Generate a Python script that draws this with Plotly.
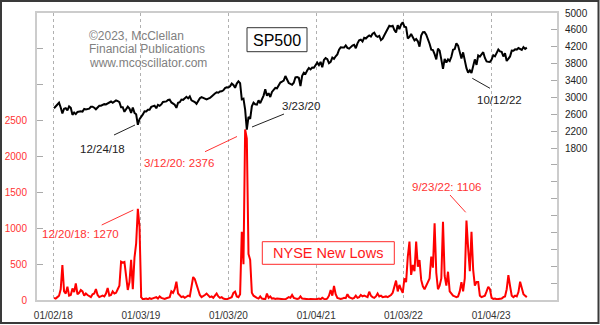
import pandas as pd
import plotly.graph_objects as go

# ---------------- data (weekly, Friday closes / weekly readings) ----------------
sp500_2018 = [2743, 2786, 2810, 2873,
              2762, 2620, 2732, 2747,
              2691, 2786, 2752, 2588, 2641,
              2604, 2656, 2670, 2670,
              2663, 2728, 2713, 2721,
              2735, 2779, 2780, 2755, 2718,
              2760, 2801, 2802, 2819,
              2840, 2833, 2850, 2875, 2902,
              2872, 2905, 2930, 2914,
              2886, 2767, 2768, 2659,
              2723, 2781, 2736, 2633, 2760,
              2633, 2600, 2351, 2486]
sp500_2019 = [2532, 2596, 2671, 2665,
              2707, 2708, 2776, 2793,
              2804, 2743, 2822, 2800, 2834,
              2893, 2907, 2905, 2940,
              2946, 2881, 2860, 2826, 2752,
              2873, 2887, 2950, 2942,
              2990, 3014, 2977, 3026,
              2932, 2919, 2889, 2847, 2926,
              2979, 3007, 2992, 2962,
              2952, 2970, 2986, 3023,
              3067, 3093, 3120, 3110, 3141,
              3146, 3169, 3221, 3240]
sp500_2020 = [3235, 3265, 3330, 3295, 3226,
              3328, 3380, 3338, 2954,
              2972, 2711, 2237, 2541,
              2489, 2790, 2875, 2837,
              2831, 2930, 2864, 2955, 3044,
              3194, 3041, 3098, 3009,
              3130, 3185, 3225, 3216, 3271,
              3351, 3373, 3397, 3508,
              3427, 3341, 3319, 3298,
              3348, 3477, 3484, 3465, 3270,
              3510, 3585, 3558, 3638,
              3699, 3663, 3709, 3703]
sp500_2021 = [3756, 3825, 3768, 3841, 3714,
              3887, 3934, 3907, 3811,
              3842, 3943, 3913, 3975,
              4020, 4129, 4185, 4180, 4181,
              4233, 4174, 4156, 4204,
              4230, 4247, 4166, 4281,
              4352, 4370, 4327, 4412, 4395,
              4437, 4468, 4442, 4509,
              4535, 4459, 4433, 4455,
              4357, 4391, 4471, 4545, 4605,
              4697, 4683, 4698, 4595,
              4538, 4712, 4620, 4726, 4778]
sp500_2022 = [4677, 4663, 4398, 4432,
              4501, 4419, 4349, 4385,
              4329, 4204, 4463, 4543,
              4546, 4488, 4393, 4272, 4132,
              4123, 4024, 3901, 4158,
              4109, 3901, 3675, 3912,
              3825, 3899, 3863, 3962, 4130,
              4145, 4280, 4228, 4058,
              3924, 4067, 3873, 3693, 3586,
              3640, 3577, 3753, 3901,
              3771, 3993, 3965, 4026,
              4072, 3934, 3852, 3845, 3840]
sp500_2023 = [3895, 3999, 3973, 4071,
              4136, 4090, 4079, 3970,
              4046, 3862, 3917, 3971, 4109,
              4105, 4138, 4133, 4169,
              4136, 4124, 4192, 4151, 4180]

lows_2018 = [30, 20, 40, 60,
             150, 488, 120, 90,
             185, 60, 70, 160, 110,
             230, 80, 100, 140,
             120, 60, 90, 70,
             60, 40, 80, 90, 153,
             70, 40, 50, 60,
             50, 90, 167, 60, 70,
             120, 90, 100, 150,
             200, 534, 520, 530,
             280, 140, 250, 560, 150,
             590, 790, 1270, 1020]
lows_2019 = [40, 10, 15, 20,
             10, 25, 15, 20,
             30, 40, 20, 50, 30,
             20, 15, 25, 30,
             40, 120, 100, 150, 255,
             90, 60, 40, 50,
             30, 45, 60, 50,
             200, 320, 290, 209, 120,
             70, 40, 50, 70,
             90, 60, 40, 50,
             30, 60, 90, 50, 30,
             40, 20, 15, 10]
lows_2020 = [20, 30, 40, 100, 116,
             50, 40, 80, 950,
             500, 2376, 2250, 640,
             560, 100, 60, 40,
             30, 20, 50, 20, 15,
             10, 90, 30, 50,
             20, 25, 15, 20, 15,
             10, 15, 10, 10,
             20, 40, 30, 70,
             30, 20, 15, 20, 50,
             20, 15, 10, 8,
             10, 15, 10, 10]
lows_2021 = [10, 15, 20, 10, 30,
             15, 10, 20, 60,
             140, 60, 195, 80,
             30, 20, 15, 20, 30,
             25, 80, 40, 25,
             20, 30, 60, 30,
             40, 70, 50, 60, 50,
             40, 116, 60, 40,
             30, 50, 90, 50,
             60, 40, 50, 50, 40,
             50, 70, 100, 210,
             270, 120, 210, 150, 100]
lows_2022 = [300, 250, 600, 813,
             350, 488, 400, 813,
             465, 557, 280, 190,
             150, 190, 250, 300, 604,
             450, 1068, 380, 150,
             200, 300, 1091, 335,
             200, 394, 120, 80, 60,
             50, 40, 50, 120,
             250, 120, 300, 1106, 720,
             400, 952, 420, 200,
             250, 250, 60, 40,
             50, 60, 120, 185, 150]
lows_2023 = [30, 15, 20, 10,
             10, 15, 20, 40,
             50, 150, 348, 195, 60,
             40, 60, 50, 110,
             255, 150, 80, 60, 40]

year_starts = ["2018-01-05", "2019-01-04", "2020-01-03",
               "2021-01-01", "2022-01-07", "2023-01-06"]
sp_years = [sp500_2018, sp500_2019, sp500_2020, sp500_2021, sp500_2022, sp500_2023]
lows_years = [lows_2018, lows_2019, lows_2020, lows_2021, lows_2022, lows_2023]

sp_dates, sp_vals, lo_dates, lo_vals = [], [], [], []
for start, spv, lov in zip(year_starts, sp_years, lows_years):
    sp_dates += list(pd.date_range(start, periods=len(spv), freq="W-FRI"))
    sp_vals += spv
    lo_dates += list(pd.date_range(start, periods=len(lov), freq="W-FRI"))
    lo_vals += lov

x_tick_dates = ["2018-01-02", "2019-01-03", "2020-01-03",
                "2021-01-04", "2022-01-03", "2023-01-04"]
x_tick_text = ["01/02/18", "01/03/19", "01/03/20", "01/04/21", "01/03/22", "01/04/23"]
lows_ticks = [0, 500, 1000, 1500, 2000, 2500, 3000, 3500]
lows_tick_text = ["0", "500", "1000", "1500", "2000", "2500", "", ""]
sp_ticks = [5000 - 400 * k for k in range(18)]
sp_tick_text = [str(v) if v >= 1800 else "" for v in sp_ticks]

# ---------------- layout helpers (pixel -> paper) ----------------
L, R, T, B = 37, 557, 13, 300
W, H = 600, 325


def px(x):
    return (x - L) / (R - L)


def py(y):
    return (B - y) / (B - T)


FONT = "Liberation Sans, Arial, sans-serif"
RED_TXT = "#ff3333"

fig = go.Figure()
fig.add_trace(go.Scatter(x=lo_dates, y=lo_vals, mode="lines", yaxis="y",
                         line=dict(color="#ff0000", width=2), hoverinfo="skip"))
fig.add_trace(go.Scatter(x=sp_dates, y=sp_vals, mode="lines", yaxis="y2",
                         line=dict(color="#000000", width=2), hoverinfo="skip"))

fig.update_layout(
    width=W, height=H,
    margin=dict(l=L, r=W - R, t=T, b=H - B, autoexpand=False),
    paper_bgcolor="white", plot_bgcolor="white",
    showlegend=False,
    font=dict(family=FONT),
    xaxis=dict(type="date", range=["2017-10-26", "2023-10-06"],
               tickvals=x_tick_dates, ticktext=x_tick_text, automargin=False,
               showgrid=True, griddash="dot", gridcolor="#b0b0b0", gridwidth=1,
               showline=True, mirror=True, linecolor="#cccccc", linewidth=2,
               ticks="", ticklabelstandoff=5,
               tickfont=dict(size=10, color="#333333"), zeroline=False),
    yaxis=dict(range=[0, 4000], tickvals=lows_ticks, ticktext=lows_tick_text,
               ticks="inside", ticklen=6, tickcolor="#aaaaaa", showgrid=False,
               showline=True, mirror=True, linecolor="#cccccc", linewidth=2,
               ticklabelstandoff=6, automargin=False,
               tickfont=dict(size=10, color=RED_TXT), zeroline=False),
    yaxis2=dict(range=[-1800, 5000], overlaying="y", side="right",
                tickvals=sp_ticks, ticktext=sp_tick_text, automargin=False,
                ticks="inside", ticklen=6, tickcolor="#aaaaaa", showgrid=False,
                showline=False, ticklabelstandoff=7,
                tickfont=dict(size=10, color="#222222"),
                zeroline=False),
)

shapes = []
# outer frame
shapes.append(dict(type="rect", xref="paper", yref="paper",
                   x0=px(1), x1=px(598.5), y0=py(1), y1=py(323),
                   line=dict(color="#3a3a3a", width=2), fillcolor="rgba(0,0,0,0)"))
# label boxes
shapes.append(dict(type="rect", xref="paper", yref="paper",
                   x0=px(247), x1=px(307), y0=py(27.7), y1=py(51.7),
                   line=dict(color="#333333", width=1), fillcolor="white", layer="above"))
shapes.append(dict(type="rect", xref="paper", yref="paper",
                   x0=px(262.3), x1=px(394.3), y0=py(241.7), y1=py(264.3),
                   line=dict(color="#ff2a2a", width=1), fillcolor="white", layer="above"))
# pointer lines
pointer_lines = [
    ((114, 135), (135, 125), "#222222"),
    ((252, 127), (284, 114), "#222222"),
    ((472.3, 78.3), (490, 88.3), "#222222"),
    ((205, 151.7), (237, 136.5), RED_TXT),
    ((101.7, 225), (133.3, 210), RED_TXT),
    ((450, 195), (465.7, 212.3), RED_TXT),
]
for (x0, y0), (x1, y1), c in pointer_lines:
    shapes.append(dict(type="line", xref="paper", yref="paper",
                       x0=px(x0), y0=py(y0), x1=px(x1), y1=py(y1),
                       line=dict(color=c, width=1)))
fig.update_layout(shapes=shapes)

annotations = []


def label(text, cx, cy, size, color, anchor="center"):
    annotations.append(dict(text=text, x=px(cx), y=py(cy), xref="paper", yref="paper",
                            xanchor=anchor, yanchor="middle", showarrow=False,
                            font=dict(family=FONT, size=size, color=color)))


label("©2023, McClellan", 87, 36, 12, "#808080", "left")
label("Financial Publications", 87, 49.5, 12, "#808080", "left")
label("www.mcoscillator.com", 87, 63, 12, "#808080", "left")
label("SP500", 277, 40, 16, "#000000")
label("NYSE New Lows", 328.3, 253, 14.5, "#ff1a1a")
label("12/24/18", 102, 149, 11.5, "#222222")
label("3/23/20", 300.5, 106, 11.5, "#222222")
label("10/12/22", 499.3, 100, 11.5, "#222222")
label("3/12/20: 2376", 179, 162.7, 11.5, RED_TXT)
label("12/20/18: 1270", 80, 234, 11.5, RED_TXT)
label("9/23/22: 1106", 447, 186.7, 11.5, RED_TXT)
fig.update_layout(annotations=annotations)

fig.write_html("out.html")
